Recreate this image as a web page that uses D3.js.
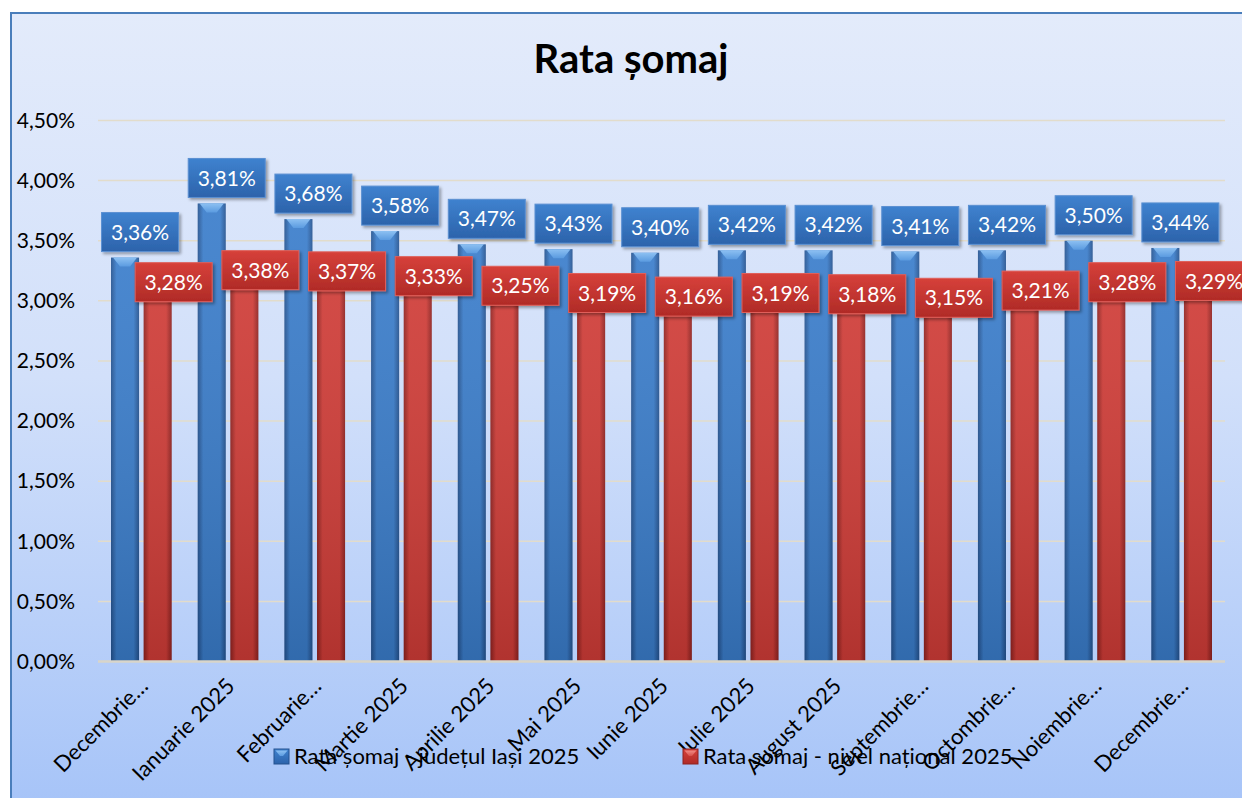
<!DOCTYPE html>
<html>
<head>
<meta charset="utf-8">
<script src="https://cdn.jsdelivr.net/npm/d3@7"></script>
<style>
  body { margin: 0; background: #fff; }
  text { font-family: Lato, "Open Sans", sans-serif; }
</style>
</head>
<body>
<script>
// luni
var categories = ["Decembrie 2024", "Ianuarie 2025", "Februarie 2025", "Martie 2025",
    "Aprilie 2025", "Mai 2025", "Iunie 2025", "Iulie 2025", "August 2025",
    "Septembrie 2025", "Octombrie 2025", "Noiembrie 2025", "Decembrie 2025"];

// rata somaj (%)
var judetIasi = [3.36, 3.81, 3.68, 3.58, 3.47, 3.43, 3.40, 3.42, 3.42, 3.41, 3.42, 3.50, 3.44];
var national = [3.28, 3.38, 3.37, 3.33, 3.25, 3.19, 3.16, 3.19, 3.18, 3.15, 3.21, 3.28, 3.29];

var seriesNames = ["Rata șomaj - județul Iași 2025", "Rata șomaj - nivel național 2025"];
var yTicks = [0, 0.5, 1, 1.5, 2, 2.5, 3, 3.5, 4, 4.5];

var W = 1242, H = 798;
var pct = function(d) { return d.toFixed(2).replace(".", ",") + "%"; };
var shortLabel = function(s) { return s.length > 13 ? s.split(" ")[0] + "\u2026" : s; };

var svg = d3.select("body").append("svg")
    .attr("width", W)
    .attr("height", H);

var defs = svg.append("defs");

var bg = defs.append("linearGradient").attr("id", "bg")
    .attr("x1", 0).attr("y1", 0).attr("x2", 0).attr("y2", 1);
bg.append("stop").attr("offset", 0).attr("stop-color", "#e3ebfb");
bg.append("stop").attr("offset", 0.45).attr("stop-color", "#d2e0fa");
bg.append("stop").attr("offset", 1).attr("stop-color", "#a5c3f8");

function hGrad(id, edge, mid) {
    var g = defs.append("linearGradient").attr("id", id)
        .attr("x1", 0).attr("y1", 0).attr("x2", 1).attr("y2", 0);
    g.append("stop").attr("offset", 0).attr("stop-color", edge);
    g.append("stop").attr("offset", 0.2).attr("stop-color", mid);
    g.append("stop").attr("offset", 0.8).attr("stop-color", mid);
    g.append("stop").attr("offset", 1).attr("stop-color", edge);
}
hGrad("barBlue", "#24528f", "#3a7dcb");
hGrad("barRed", "#8f2220", "#d03c37");

var shade = defs.append("linearGradient").attr("id", "shade")
    .attr("x1", 0).attr("y1", 0).attr("x2", 0).attr("y2", 1);
shade.append("stop").attr("offset", 0).attr("stop-color", "#fff").attr("stop-opacity", 0.08);
shade.append("stop").attr("offset", 1).attr("stop-color", "#000").attr("stop-opacity", 0.15);

function vGrad(id, top, bottom) {
    var g = defs.append("linearGradient").attr("id", id)
        .attr("x1", 0).attr("y1", 0).attr("x2", 0).attr("y2", 1);
    g.append("stop").attr("offset", 0).attr("stop-color", top);
    g.append("stop").attr("offset", 1).attr("stop-color", bottom);
}
vGrad("boxBlue", "#3f82cf", "#2c63ab");
vGrad("boxRed", "#d6403a", "#b02b27");
vGrad("bevelBlue", "#8cc0f2", "#5b9be0");
vGrad("bevelRed", "#f08a84", "#d8504a");

var sh = defs.append("filter").attr("id", "shadow")
    .attr("x", -0.2).attr("y", -0.2).attr("width", 1.4).attr("height", 1.5);
sh.append("feDropShadow").attr("dx", 2).attr("dy", 2).attr("stdDeviation", 1.5)
    .attr("flood-color", "#000").attr("flood-opacity", 0.35);

// fundal
svg.append("rect")
    .attr("x", 11).attr("y", 13)
    .attr("width", W + 10).attr("height", H + 10)
    .attr("fill", "url(#bg)")
    .attr("stroke", "#4a7ebb")
    .attr("stroke-width", 2);

svg.append("text")
    .attr("x", 631).attr("y", 73)
    .attr("text-anchor", "middle")
    .attr("font-size", 40)
    .attr("font-weight", "bold")
    .attr("fill", "#000")
    .text("Rata șomaj");

var x0 = d3.scaleBand()
    .domain(categories)
    .range([98, 1225])
    .paddingInner(0.3)
    .paddingOuter(0.15);

var x1 = d3.scaleBand()
    .domain([0, 1])
    .range([0, x0.bandwidth()])
    .paddingInner(0.14);

var y = d3.scaleLinear()
    .domain([0, 4.5])
    .range([661.5, 120.5]);

// grid
svg.append("g")
    .selectAll("line")
    .data(yTicks.slice(1))
    .enter()
    .append("line")
    .attr("x1", 98).attr("x2", 1225)
    .attr("y1", function(d) { return y(d); })
    .attr("y2", function(d) { return y(d); })
    .attr("stroke", "#e2dccb")
    .attr("stroke-width", 1.5);

var yAxis = svg.append("g")
    .attr("transform", "translate(98,0)")
    .call(d3.axisLeft(y).tickValues(yTicks).tickFormat(pct).tickSize(0).tickPadding(23));
yAxis.select(".domain").remove();
yAxis.selectAll("text")
    .attr("font-family", "Lato, sans-serif")
    .attr("font-size", 21)
    .attr("fill", "#000");

var series = [
    { values: judetIasi, fill: "url(#barBlue)", bevel: "url(#bevelBlue)", box: "url(#boxBlue)", stroke: "#5b90d2" },
    { values: national, fill: "url(#barRed)", bevel: "url(#bevelRed)", box: "url(#boxRed)", stroke: "#e0605a" }
];

var items = [];
series.forEach(function(s, si) {
    s.values.forEach(function(v, i) {
        items.push({ s: s, si: si, v: v, cat: categories[i] });
    });
});

var bx = function(d) { return x0(d.cat) + x1(d.si); };
var bw = x1.bandwidth();

var bars = svg.append("g").selectAll("g")
    .data(items)
    .enter()
    .append("g");

bars.append("rect")
    .attr("x", bx)
    .attr("y", function(d) { return y(d.v); })
    .attr("width", bw)
    .attr("height", function(d) { return y(0) - y(d.v); })
    .attr("fill", function(d) { return d.s.fill; });

bars.append("rect")
    .attr("x", bx)
    .attr("y", function(d) { return y(d.v); })
    .attr("width", bw)
    .attr("height", function(d) { return y(0) - y(d.v); })
    .attr("fill", "url(#shade)");

bars.append("path")
    .attr("d", function(d) {
        var x = bx(d), t = y(d.v);
        return "M" + (x + 2) + "," + t + "L" + (x + bw - 2) + "," + t +
            "L" + (x + bw / 2 + 5) + "," + (t + 9) + "L" + (x + bw / 2 - 5) + "," + (t + 9) + "Z";
    })
    .attr("fill", function(d) { return d.s.bevel; });

// axa x
svg.append("line")
    .attr("x1", 98).attr("x2", 1225)
    .attr("y1", y(0)).attr("y2", y(0))
    .attr("stroke", "#d9d5c9")
    .attr("stroke-width", 2.5);

var xAxis = svg.append("g")
    .attr("transform", "translate(0," + y(0) + ")")
    .call(d3.axisBottom(x0).tickSize(0).tickFormat(shortLabel));
xAxis.select(".domain").remove();
xAxis.selectAll("text")
    .attr("font-family", "Lato, sans-serif")
    .attr("font-size", 22)
    .attr("fill", "#000")
    .attr("text-anchor", "end")
    .attr("y", 0)
    .attr("dy", 0)
    .attr("transform", "translate(8,26) rotate(-45)");

// etichete
var boxW = 77, boxH = 39;
var labels = svg.append("g").selectAll("g")
    .data(items.filter(function(d) { return d.si === 0; }).concat(items.filter(function(d) { return d.si === 1; })))
    .enter()
    .append("g")
    .attr("transform", function(d) {
        var cx = bx(d) + bw / 2 + (d.si === 0 ? 15 : 16);
        var cy = d.si === 0 ? y(d.v) - 6 - boxH / 2 : y(d.v) + 15;
        return "translate(" + cx + "," + cy + ")";
    });

labels.append("rect")
    .attr("x", -boxW / 2).attr("y", -boxH / 2)
    .attr("width", boxW).attr("height", boxH)
    .attr("fill", function(d) { return d.s.box; })
    .attr("stroke", function(d) { return d.s.stroke; })
    .attr("stroke-width", 1)
    .attr("filter", "url(#shadow)");

labels.append("text")
    .attr("text-anchor", "middle")
    .attr("dy", "0.36em")
    .attr("font-size", 21)
    .attr("fill", "#fff")
    .text(function(d) { return pct(d.v); });

// legenda
var legendX = [274, 683];
var legend = svg.append("g").selectAll("g")
    .data(series)
    .enter()
    .append("g")
    .attr("transform", function(d, i) { return "translate(" + legendX[i] + ",749)"; });

legend.append("rect")
    .attr("width", 15).attr("height", 15)
    .attr("fill", function(d) { return d.box; })
    .attr("stroke", function(d, i) { return i === 0 ? "#24528f" : "#8f2220"; })
    .attr("stroke-width", 1);

legend.append("path")
    .attr("d", "M1.5,1.5L13.5,1.5L9,7L6,7Z")
    .attr("fill", function(d) { return d.bevel; });

legend.append("text")
    .attr("x", 20).attr("y", 14.5)
    .attr("font-size", 22)
    .attr("fill", "#000")
    .text(function(d, i) { return seriesNames[i]; });
</script>
</body>
</html>
